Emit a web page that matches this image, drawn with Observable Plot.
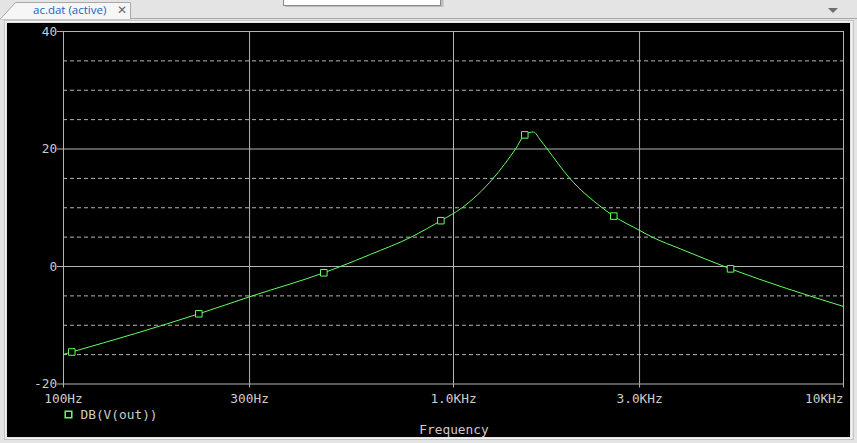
<!DOCTYPE html>
<html><head><meta charset="utf-8">
<script src="https://cdn.jsdelivr.net/npm/d3@7"></script>
<script src="https://cdn.jsdelivr.net/npm/@observablehq/plot@0.6"></script>
<style>
html,body{margin:0;padding:0;}
body{width:857px;height:443px;background:#e4e4e4;position:relative;overflow:hidden;}
#chrome{position:absolute;left:0;top:0;}
#panel{position:absolute;left:7px;top:23px;width:843px;height:414px;background:#000;}
#panel svg{display:block;}
</style>
</head><body>
<svg id="chrome" width="857" height="443">
  <rect x="0" y="0" width="857" height="443" fill="#e4e4e4"/>
  <line x1="0" y1="18.5" x2="857" y2="18.5" stroke="#a8a8a8"/>
  <polygon points="0.5,19 15.5,2.5 130.5,2.5 130.5,19" fill="#f6f6f6" stroke="#a8a8a8"/>
  <line x1="1" y1="18.5" x2="130" y2="18.5" stroke="#f6f6f6"/>
  <text x="33" y="14" font-family="'Open Sans','Noto Sans',sans-serif" font-size="11.5" fill="#1a5fc4">ac.dat (active)</text>
  <text x="117" y="14" font-family="'DejaVu Sans',sans-serif" font-size="12" fill="#6a6a6a">✕</text>
  <rect x="285.5" y="-2" width="158" height="9" fill="#bdbdbd"/>
  <rect x="283.5" y="-2" width="157" height="7.5" fill="#ffffff" stroke="#8a8a8a"/>
  <polygon points="828,8 838,8 833,13" fill="#6e6e6e"/>
  <rect x="4.5" y="20.5" width="849" height="419" fill="none" stroke="#c4c4c4"/>
  <rect x="5.5" y="21.5" width="846" height="417" fill="none" stroke="#f4f4f4"/>
</svg>
<div id="panel"></div>
<script>
// ---- data ----
const freqHz = [100, 105, 222.3, 305, 465, 513, 612, 784, 928, 1052, 1264, 1442, 1523, 1603, 1671, 1739, 1987, 2406, 2576, 3004, 3232, 3819, 5132, 7145, 10000];
const gainDb = [-14.95, -14.55, -8.05, -5.0, -1.07, 0.0, 2.05, 5.1, 7.8, 10.0, 15.0, 20.0, 22.4, 22.9, 21.5, 20.0, 15.0, 10.0, 8.58, 6.13, 5.0, 3.0, -0.4, -3.73, -6.8];
const markerHz = [105, 222.3, 465, 928, 1523, 2576, 5132];
const markerDb = [-14.55, -8.05, -1.07, 7.8, 22.4, 8.58, -0.4];
const xTicks = [100, 300, 1000, 3000, 10000];
const xTickLabels = ["100Hz", "300Hz", "1.0KHz", "3.0KHz", "10KHz"];
const yTicks = [-20, 0, 20, 40];
const yDashed = [-15, -10, -5, 5, 10, 15, 25, 30, 35];
const seriesName = "DB(V(out))";
const xTitle = "Frequency";

const curve = freqHz.map((f, i) => ({f, db: gainDb[i]}));
const markers = markerHz.map((f, i) => ({f, db: markerDb[i]}));
const labelOf = d => xTickLabels[xTicks.indexOf(d)];

const grid = "#b4b4b4";
const txt = "#cccccc";
const green = "#62ff62";
const font = "'DejaVu Sans Mono', monospace";

const chart = Plot.plot({
  width: 843, height: 414,
  marginLeft: 56, marginRight: 7, marginTop: 8, marginBottom: 53.5,
  style: {background: "#000", color: txt, fontFamily: font, fontSize: "12.8px"},
  x: {type: "log", domain: [100, 10000]},
  y: {domain: [-20, 40]},
  marks: [
    Plot.ruleY(yDashed, {stroke: grid, strokeDasharray: "4,3"}),
    Plot.ruleX(xTicks.slice(1, -1), {stroke: grid}),
    Plot.ruleY(yTicks.slice(1, -1), {stroke: grid}),
    Plot.frame({stroke: grid}),
    Plot.axisX(xTicks, {anchor: "bottom", tickSize: 4, tickFormat: () => "", label: null, stroke: grid}),
    Plot.axisY(yTicks, {anchor: "left", tickSize: 6, tickFormat: () => "", label: null, stroke: grid}),
    Plot.text(xTicks.slice(0, -1), {x: d => d, text: labelOf, frameAnchor: "bottom", dy: 15.3, lineAnchor: "middle", textAnchor: "middle", fill: txt}),
    Plot.text(xTicks.slice(-1), {x: d => d, text: labelOf, frameAnchor: "bottom", dy: 15.3, lineAnchor: "middle", textAnchor: "end", fill: txt}),
    Plot.text(yTicks, {y: d => d, text: d => String(d), frameAnchor: "left", dx: -6.3, lineAnchor: "middle", textAnchor: "end", fill: txt}),
    Plot.line(curve, {x: "f", y: "db", stroke: green, strokeWidth: 1, curve: "monotone-x"}),
    Plot.dot(markers, {x: "f", y: "db", symbol: "square", r: 3.7, stroke: green, fill: "#000", strokeWidth: 1}),
    Plot.dot([seriesName], {frameAnchor: "bottom-left", dx: 5, dy: 30.5, symbol: "square", r: 3.7, stroke: green, fill: "#000"}),
    Plot.text([seriesName], {frameAnchor: "bottom-left", dx: 17, dy: 30.5, text: d => d, textAnchor: "start", lineAnchor: "middle", fill: txt}),
    Plot.text([xTitle], {frameAnchor: "bottom", dx: 0.5, dy: 45.5, text: d => d, textAnchor: "middle", lineAnchor: "middle", fill: txt})
  ]
});
document.getElementById("panel").appendChild(chart);
</script>
</body></html>
